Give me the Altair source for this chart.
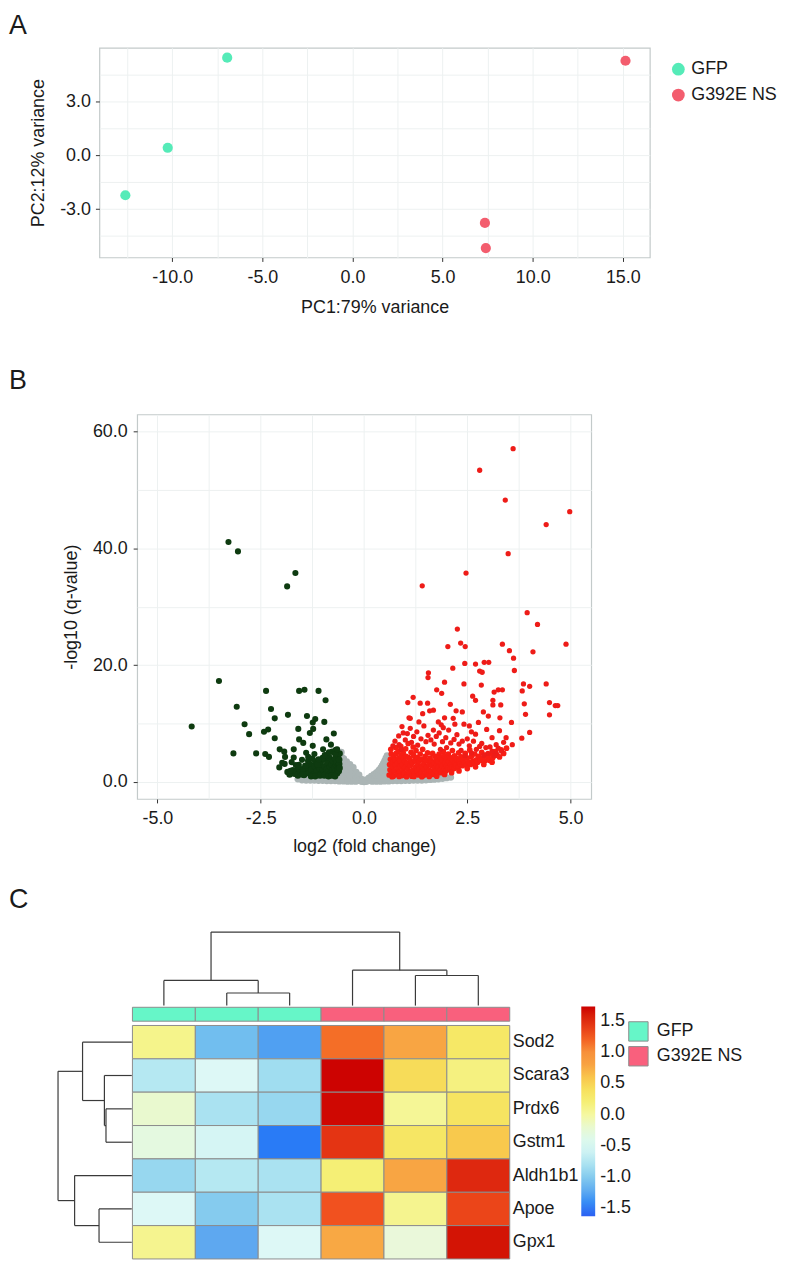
import altair as alt
import pandas as pd

FONT = "Liberation Sans"
TXT = "#1a1a1a"

# ---------------- Panel A : PCA ----------------
pca_group = ["GFP", "GFP", "GFP", "G392E NS", "G392E NS", "G392E NS"]
pca_pc1 = [-12.6, -10.25, -6.95, 15.15, 7.35, 7.4]
pca_pc2 = [-2.23, 0.41, 5.42, 5.25, -3.77, -5.17]
groups = ["GFP", "G392E NS"]
pca_colors = ["#55EBB8", "#F35D6E"]
A_x_ticks = [-12.5, -10, -7.5, -5, -2.5, 0, 2.5, 5, 7.5, 10, 12.5, 15]
A_y_ticks = [-4.5, -3, -1.5, 0, 1.5, 3, 4.5]

# ---------------- Panel B : volcano ----------------
green_x = [-3.28, -3.05, -1.66, -1.86, -3.51, -4.17, -2.37, -3.08, -2.25, -2.16, -2.89, -2.78, -2.42, -2.32,
           -2.16, -1.84, -3.16, -2.61, -2.04, -2.39, -2.30, -1.93, -1.91, -1.92, -1.70, -1.57, -1.44, -1.59,
           -1.57, -1.47, -1.38, -1.24, -1.31, -1.70, -1.40, -1.65, -1.10, -0.93, -1.18, -1.23, -0.96, -0.73,
           -1.24, -0.99, -0.80, -0.91, -1.75, -1.60, -1.50, -1.35, -1.20, -1.10, -0.95, -0.85, -0.70, -0.65,
           -2.05, -1.98, -1.78]
green_y = [41.1, 39.5, 35.8, 33.5, 17.3, 9.5, 15.6, 12.9, 12.5, 10.9, 9.9, 8.2, 8.6, 9.0,
           7.5, 11.5, 4.9, 4.9, 5.6, 4.8, 4.3, 5.2, 4.3, 3.1, 5.6, 15.6, 15.8, 9.1,
           7.3, 6.7, 11.3, 10.2, 8.4, 4.2, 5.0, 2.9, 15.6, 14.0, 10.8, 9.1, 10.3, 8.3,
           6.2, 5.6, 6.4, 7.3, 3.4, 2.6, 3.8, 4.3, 4.8, 3.9, 4.6, 5.1, 4.8, 5.6,
           2.5, 3.3, 1.9]
green_dense_x = [-1.45, -1.40, -1.38, -1.33, -1.30, -1.27, -1.22, -1.20, -1.17, -1.14, -1.10, -1.08, -1.05,
                 -1.02, -0.99, -0.97, -0.95, -0.92, -0.90, -0.88, -0.86, -0.84, -0.82, -0.80, -0.78, -0.76,
                 -0.75, -0.73, -0.72, -0.70, -0.69, -0.68, -0.66, -0.65, -0.64, -0.63, -0.62, -0.61, -0.60,
                 -0.60, -0.59, -0.59, -1.55, -1.60, -1.50, -1.62, -1.68, -1.72, -1.80, -1.85, -1.35, -1.25,
                 -1.12, -1.00, -0.90, -0.77, -0.68, -1.58, -1.48, -1.42, -1.28, -1.18, -1.06, -0.96, -0.86,
                 -0.78, -0.70]
green_dense_y = [1.2, 1.8, 2.5, 1.5, 3.0, 2.1, 1.3, 2.7, 3.5, 1.9, 1.2, 2.4, 3.1,
                 1.6, 2.0, 3.8, 2.7, 1.4, 2.2, 3.3, 1.8, 4.2, 2.6, 1.5, 3.0, 2.0,
                 3.6, 1.3, 2.4, 4.0, 1.8, 2.9, 3.4, 1.5, 2.2, 4.5, 2.7, 1.9, 3.1,
                 3.8, 2.4, 4.9, 1.6, 1.1, 2.2, 1.9, 1.4, 2.0, 1.3, 1.7, 3.6, 4.0,
                 3.0, 4.1, 4.6, 5.2, 5.5, 2.9, 1.3, 2.8, 1.0, 1.0, 1.1, 1.1, 1.0,
                 1.1, 1.0]

red_x = [3.61, 2.80, 3.42, 4.98, 4.41, 3.49, 2.47, 1.41, 3.95, 4.20, 2.26, 4.89, 2.03, 2.34, 2.45, 3.35,
         3.52, 4.09, 3.62, 2.44, 2.70, 2.91, 3.02, 2.80, 2.86, 2.15, 3.64, 1.56, 1.55, 1.95, 2.42, 2.84,
         3.86, 4.01, 4.41, 1.76, 1.88, 1.19, 1.06, 1.36, 1.54, 2.09, 2.63, 2.70, 3.15, 3.25, 3.35, 3.12,
         3.12, 3.31, 3.83, 3.88, 4.49, 4.63, 4.69, 4.49, 4.01, 3.82, 3.59, 3.44, 3.28, 3.91, 3.57, 3.29,
         2.89, 3.01, 2.77, 2.60, 2.42, 2.38, 2.23, 2.16, 2.20, 1.95, 1.87, 1.80, 1.68, 1.59, 1.42, 1.09,
         1.33, 0.92, 1.12, 1.68, 3.20, 3.20, 3.33, 3.00, 2.80, 1.12, 0.84,
         1.00, 1.05, 1.15, 1.20, 1.28, 1.30, 1.38, 1.45, 1.50, 1.55, 1.62, 1.70, 1.75, 1.82, 1.90, 1.98,
         2.05, 2.10, 2.18, 2.25, 2.30, 2.38, 2.50, 2.55, 2.65, 2.72, 2.85, 2.95, 3.05, 3.10, 2.00, 1.85,
         2.35, 2.60, 2.45, 2.90, 3.15, 3.25, 3.38, 1.92, 2.55, 2.97, 2.70, 3.10, 0.95, 0.85, 0.75, 0.70, 0.90]
red_y = [57.1, 53.4, 48.3, 46.3, 44.1, 39.1, 35.8, 33.6, 29.0, 27.0, 26.2, 23.6, 23.2, 23.8, 23.2, 23.6,
         22.5, 22.3, 21.2, 20.3, 20.2, 20.5, 20.5, 19.0, 18.8, 19.5, 19.1, 18.7, 17.9, 17.1, 16.8, 16.6,
         16.8, 16.4, 16.8, 15.8, 15.2, 14.5, 13.6, 13.5, 13.5, 13.3, 14.7, 14.0, 15.4, 15.8, 15.8, 14.0,
         13.2, 13.2, 15.6, 13.4, 13.6, 13.1, 13.1, 11.5, 8.5, 7.5, 6.4, 7.6, 8.8, 11.6, 10.2, 11.0,
         12.0, 11.3, 10.2, 8.6, 9.9, 12.0, 12.2, 10.9, 9.9, 11.0, 9.8, 10.3, 12.3, 12.2, 11.7, 11.0,
         10.3, 9.5, 9.2, 8.9, 6.4, 4.9, 5.3, 4.9, 6.1, 10.9, 7.9,
         7.2, 8.3, 6.8, 7.8, 8.6, 6.3, 7.4, 9.6, 6.9, 8.0, 7.2, 6.5, 7.8, 8.4, 6.9, 7.6,
         8.9, 6.7, 7.3, 8.1, 6.5, 7.0, 7.4, 6.2, 7.0, 5.6, 6.6, 5.9, 6.0, 5.3, 5.9, 5.6,
         5.4, 5.0, 4.5, 4.6, 4.5, 5.8, 6.8, 9.3, 9.6, 9.0, 8.2, 7.6, 8.4, 6.4, 7.0, 6.2, 5.6]
red_dense_x = [0.61, 0.63, 0.62, 0.64, 0.66, 0.65, 0.67, 0.69, 0.70, 0.72, 0.71, 0.74, 0.76, 0.75, 0.78, 0.77,
               0.80, 0.82, 0.81, 0.84, 0.83, 0.86, 0.88, 0.87, 0.90, 0.89, 0.92, 0.94, 0.93, 0.96, 0.95, 0.98,
               1.00, 0.99, 1.02, 1.01, 1.04, 1.06, 1.05, 1.08, 1.07, 1.10, 1.12, 1.11, 1.14, 1.16, 1.18, 1.17,
               1.20, 1.19, 1.22, 1.24, 1.23, 1.26, 1.28, 1.30, 1.29, 1.32, 1.34, 1.33, 1.36, 1.38, 1.40, 1.39,
               1.42, 1.44, 1.46, 1.45, 1.48, 1.50, 1.52, 1.51, 1.54, 1.56, 1.58, 1.57, 1.60, 1.62, 1.64, 1.63,
               1.66, 1.68, 1.70, 1.69, 1.72, 1.74, 1.76, 1.75, 1.78, 1.80, 1.79, 1.82, 1.84, 1.86, 1.85, 1.88,
               1.90, 1.89, 1.92, 1.94, 1.96, 1.95, 1.98, 2.00, 1.99, 2.03, 2.05, 2.04, 2.08, 2.10, 2.09, 2.13,
               2.15, 2.14, 2.18, 2.20, 2.19, 2.23, 2.25, 2.28, 2.30, 2.29, 2.33, 2.35, 2.38, 2.40, 2.43, 2.45,
               2.48, 2.50, 2.53, 2.56, 2.58, 2.60, 2.63, 2.66, 2.68, 2.72, 2.75, 2.78, 2.82, 2.85, 2.88, 2.92,
               2.95, 3.00, 3.04, 3.08, 3.12, 3.18, 3.22, 3.28, 3.32, 3.38, 3.45,
               0.68, 0.85, 1.03, 1.21, 1.40, 1.58, 1.76, 1.95, 2.12, 2.30, 2.50, 2.70, 2.90, 3.10]
red_dense_y = [1.2, 2.1, 3.0, 3.9, 4.8, 5.6, 1.6, 2.6, 3.4, 4.3, 1.0, 1.9, 2.9, 3.8, 4.9, 5.9,
               1.3, 2.3, 3.2, 4.1, 5.3, 1.7, 2.7, 3.6, 4.6, 6.1, 1.1, 2.0, 3.0, 4.0, 5.0, 1.5,
               2.5, 3.5, 4.4, 5.7, 1.2, 2.2, 3.2, 4.2, 6.6, 1.6, 2.8, 3.9, 5.1, 1.0, 2.0, 3.3,
               4.6, 6.0, 1.4, 2.5, 3.7, 5.4, 1.9, 3.0, 4.2, 1.2, 2.3, 3.5, 4.8, 1.6, 2.7, 3.9,
               5.6, 1.1, 2.1, 3.2, 4.4, 1.5, 2.6, 3.7, 5.0, 1.2, 2.0, 3.0, 4.1, 1.7, 2.8, 3.6,
               4.9, 1.3, 2.3, 3.3, 4.4, 1.8, 2.9, 3.9, 1.5, 2.5, 3.5, 4.8, 2.0, 3.1, 4.2, 1.6,
               2.7, 3.8, 5.2, 2.2, 3.3, 4.5, 1.9, 2.8, 4.0, 2.4, 3.5, 4.8, 2.1, 3.0, 4.2, 2.6,
               3.7, 5.4, 2.3, 3.3, 4.5, 2.8, 4.0, 2.5, 3.5, 5.0, 3.1, 4.3, 2.8, 3.8, 3.3, 4.9,
               2.9, 4.1, 3.4, 5.5, 3.0, 4.4, 3.6, 3.2, 4.8, 3.8, 3.4, 4.4, 3.7, 5.1, 4.0, 3.6,
               4.6, 4.1, 3.7, 4.8, 4.2, 5.2, 4.6, 4.3, 5.5, 4.9, 5.8,
               0.9, 0.95, 0.9, 0.95, 0.9, 0.95, 1.0, 1.3, 1.6, 1.9, 2.3, 2.6, 3.0, 3.4]

gray_x = [-1.45, -1.35, -1.25, -1.15, -1.05, -0.95, -0.85, -0.75, -0.65, -1.30, -1.10, -0.90, -0.70,
          -0.58, -0.58, -0.57, -0.56, -0.55, -0.52, -0.50, -0.50, -0.49, -0.45, -0.44, -0.43, -0.42,
          -0.38, -0.37, -0.35, -0.34, -0.30, -0.29, -0.27, -0.26, -0.22, -0.20, -0.19, -0.15, -0.14,
          -0.12, -0.08, -0.06, -0.03, 0.00, 0.03, 0.06, 0.10, 0.12, 0.16, 0.18, 0.22, 0.24, 0.28, 0.30,
          0.33, 0.36, 0.39, 0.41, 0.43, 0.46, 0.48, 0.50, 0.52, 0.54, 0.55, 0.57, 0.58, 0.58, 0.59,
          0.65, 0.75, 0.85, 0.95, 1.05, 1.15, 1.25, 1.35, 1.45, 1.55, 1.65, 1.75, 0.70, 0.90, 1.10,
          1.30, 1.50, -0.62, -0.60, 0.62, 0.60,
          -0.56, -0.53, -0.50, -0.47, -0.44, -0.41, -0.38, -0.35, -0.32, -0.29, -0.26, -0.23, -0.20,
          -0.17, -0.14, -0.10, -0.05, 0.05, 0.10, 0.14, 0.17, 0.20, 0.23, 0.26, 0.29, 0.32, 0.35, 0.38,
          0.41, 0.44, 0.47, 0.50, 0.53, 0.56,
          -1.60, -1.50, -1.40, -1.30, -1.20, -1.10, -1.00, -0.90, -0.80, -0.70, -0.60, -0.50, -0.40,
          -0.30, -0.20, 0.20, 0.30, 0.40, 0.50, 0.60, 0.70, 0.80, 0.90, 1.00, 1.10, 1.20, 1.30, 1.40,
          1.50, 1.60, 1.70, 1.80, 1.90, 2.00, 2.10, 1.85, 1.95,
          -0.50, -0.45, -0.40, -0.35, 0.35, 0.40, 0.45, 0.50, 0.52, -0.52]
gray_y = [0.6, 0.75, 0.5, 0.8, 0.6, 0.9, 0.7, 1.0, 0.8, 0.95, 1.05, 1.1, 1.2,
          1.5, 2.5, 3.5, 4.5, 5.1, 1.2, 2.2, 3.2, 4.0, 0.9, 1.9, 2.8, 3.5,
          0.7, 1.6, 2.4, 3.0, 0.5, 1.3, 2.0, 2.5, 0.4, 1.0, 1.7, 0.3, 0.8,
          1.2, 0.2, 0.5, 0.1, 0.05, 0.1, 0.4, 0.2, 0.7, 0.4, 1.0, 0.5, 1.3, 0.6, 1.6,
          1.0, 2.0, 0.8, 1.5, 2.5, 1.1, 2.0, 3.0, 1.4, 2.4, 3.5, 1.0, 1.9, 2.9, 3.8,
          0.7, 0.55, 0.8, 0.6, 0.75, 0.55, 0.8, 0.6, 0.75, 0.6, 0.7, 0.65, 0.95, 1.0, 0.95,
          1.0, 0.95, 1.3, 3.0, 1.2, 2.4,
          4.6, 4.1, 3.6, 3.2, 2.8, 2.4, 2.1, 1.8, 1.5, 1.2, 0.95, 0.75, 0.58,
          0.45, 0.32, 0.2, 0.1, 0.1, 0.2, 0.32, 0.45, 0.58, 0.75, 0.95, 1.2, 1.5, 1.8, 2.1,
          2.4, 2.8, 3.2, 3.6, 4.1, 4.5,
          0.5, 0.35, 0.3, 0.3, 0.3, 0.25, 0.25, 0.2, 0.2, 0.2, 0.15, 0.15, 0.1,
          0.1, 0.1, 0.1, 0.1, 0.1, 0.15, 0.15, 0.2, 0.2, 0.2, 0.25, 0.25, 0.3, 0.3, 0.3,
          0.35, 0.4, 0.45, 0.5, 0.6, 0.7, 0.8, 1.0, 1.1,
          1.0, 1.7, 0.6, 1.1, 1.1, 0.6, 1.7, 1.0, 2.6, 2.6]
B_x_ticks = [-5, -3.75, -2.5, -1.25, 0, 1.25, 2.5, 3.75, 5]
B_y_ticks = [0, 10, 20, 30, 40, 50, 60]

# ---------------- Panel C : heatmap ----------------
genes = ["Sod2", "Scara3", "Prdx6", "Gstm1", "Aldh1b1", "Apoe", "Gpx1"]
sample_group = ["GFP", "GFP", "GFP", "G392E NS", "G392E NS", "G392E NS"]
zscores = [
    [0.10, -1.10, -1.30, 1.15, 0.78, 0.30],
    [-0.75, -0.50, -0.85, 1.72, 0.45, 0.15],
    [-0.20, -0.80, -0.90, 1.70, 0.05, 0.35],
    [-0.30, -0.55, -1.50, 1.45, 0.32, 0.58],
    [-0.90, -0.75, -0.80, 0.20, 0.78, 1.52],
    [-0.50, -1.00, -0.80, 1.27, 0.08, 1.35],
    [0.08, -1.25, -0.50, 0.75, -0.25, 1.65],
]
heat_stops = [-1.63, -1.25, -1.0, -0.75, -0.5, -0.25, 0.0, 0.25, 0.5, 0.75, 1.0, 1.25, 1.5, 1.73]
heat_colors = ["#2F5FF2", "#5EA8F0", "#85CBEE", "#B5E8F2", "#DDF8F6", "#EAF8DA", "#F5F8A0",
               "#F6EC6A", "#F7D855", "#F8A844", "#F7903A", "#F25420", "#E02A10", "#CC0000"]
annot_colors = ["#66F6C8", "#F9607D"]
cbar_ticks = [-1.5, -1.0, -0.5, 0.0, 0.5, 1.0, 1.5]
# dendrogram merges: (left, right, height); letters name earlier merges in order a, b, c...
col_merges = [(1, 2, 12.7), (0, "a", 25.3), (4, 5, 30.3), (3, "c", 35.7), ("b", "d", 74.0)]
row_merges = [(2, 3, 26.0), (1, "a", 27.6), (0, "b", 49.6), (5, 6, 33.0), (4, "d", 57.6), ("c", "e", 74.3)]


def lab_expr(major):
    return f"({major}) ? replace(format(datum.value, '.1f'), '\u2212', '-') : ''"


def axis(title, values, major, tpad, lpad=5):
    return alt.Axis(
        title=title, values=values, labelExpr=lab_expr(major),
        tickOpacity={"condition": {"test": f"!({major})", "value": 0}, "value": 1},
        domain=False, grid=True, gridColor="#EDF1F1", gridWidth=1,
        tickColor="#333333", tickSize=4, labelPadding=lpad, titlePadding=tpad,
        labelFont=FONT, titleFont=FONT, labelFontSize=18, titleFontSize=18,
        labelColor=TXT, titleColor=TXT, titleFontWeight="normal",
    )


def panel_title(letter, offset):
    return alt.TitleParams(letter, anchor="start", frame="group", offset=offset,
                           fontSize=27, fontWeight="normal", font=FONT, color=TXT)


def spacer(w, h):
    return alt.Chart(pd.DataFrame({"v": [0]})).mark_rect(opacity=0).encode(
        x=alt.value(1), x2=alt.value(2), y=alt.value(1), y2=alt.value(2)
    ).properties(width=w, height=h, view=alt.ViewBackground(stroke="transparent"))


frame = alt.ViewBackground(stroke="#C3CACA", strokeWidth=1.2)

# ---- A
dfA = pd.DataFrame({"PC1": pca_pc1, "PC2": pca_pc2, "group": pca_group})
chartA = alt.Chart(dfA).mark_circle(size=105, opacity=1).encode(
    x=alt.X("PC1:Q", scale=alt.Scale(domain=[-14.04, 16.5], nice=False, zero=False),
            axis=axis("PC1:79% variance", A_x_ticks, "datum.value % 5 === 0", 12, 7)),
    y=alt.Y("PC2:Q", scale=alt.Scale(domain=[-5.69, 5.97], nice=False, zero=False),
            axis=axis("PC2:12% variance", A_y_ticks, "datum.value % 3 === 0", 12)),
    color=alt.Color("group:N", scale=alt.Scale(domain=groups, range=pca_colors),
                    legend=alt.Legend(title=None, orient="none", legendX=664.7, legendY=12.5,
                                      symbolType="circle", symbolSize=165, symbolStrokeWidth=0,
                                      labelFont=FONT, labelFontSize=18, labelColor=TXT,
                                      labelOffset=4, rowPadding=8, padding=0)),
).properties(width=554, height=211, view=frame)
rowA = alt.hconcat(spacer(19, 295.7), chartA, spacing=0).properties(title=panel_title("A", 7))

# ---- B
dfB = pd.concat([
    pd.DataFrame({"lfc": gray_x, "q": gray_y, "cls": "ns"}),
    pd.DataFrame({"lfc": green_dense_x, "q": green_dense_y, "cls": "down2"}),
    pd.DataFrame({"lfc": green_x, "q": green_y, "cls": "down"}),
    pd.DataFrame({"lfc": red_dense_x, "q": red_dense_y, "cls": "up2"}),
    pd.DataFrame({"lfc": red_x, "q": red_y, "cls": "up"}),
], ignore_index=True)
cls_dom = ["ns", "down2", "down", "up2", "up"]
chartB = alt.Chart(dfB).mark_circle(opacity=1).encode(
    x=alt.X("lfc:Q", scale=alt.Scale(domain=[-5.49, 5.5], nice=False, zero=False),
            axis=axis("log2 (fold change)", B_x_ticks, "(datum.value * 2) % 5 === 0", 10, 7)),
    y=alt.Y("q:Q", scale=alt.Scale(domain=[-2.9, 62.96], nice=False, zero=False),
            axis=axis("-log10 (q-value)", B_y_ticks, "datum.value % 20 === 0", 12, 6)),
    color=alt.Color("cls:N", scale=alt.Scale(domain=cls_dom,
                                             range=["#ABB5B5", "#0E3B10", "#0E3B10", "#F81E14", "#EE1C18"]),
                    legend=None),
    size=alt.Size("cls:N", scale=alt.Scale(domain=cls_dom, range=[48, 28, 11, 32, 11]), legend=None),
    order=alt.Order("idx:Q"),
).transform_window(idx="row_number()").properties(width=457, height=387, view=frame)
rowB = alt.hconcat(spacer(52.3, 449), chartB, spacing=0).properties(title=panel_title("B", 18.7))

# ---- C
CW, RH = 63.33, 33.57          # pixel size of one heatmap column / row
xs = alt.Scale(domain=[-1.963, 6.0], nice=False, zero=False)
ys = alt.Scale(domain=[-2.979, 7.0], nice=False, zero=False, reverse=True)

heat_rows = []
for r, g in enumerate(genes):
    for c in range(6):
        heat_rows.append({"x0": c, "x1": c + 1, "y0": r, "y1": r + 1, "value": zscores[r][c], "gene": g})
dfH = pd.DataFrame(heat_rows)
ann_top, ann_bot = -18.3 / RH, -4.3 / RH
dfAn = pd.DataFrame({"x0": list(range(6)), "x1": [c + 1 for c in range(6)],
                     "y0": [ann_top] * 6, "y1": [ann_bot] * 6, "group": sample_group})


def dendro_segments(merges, leaf_pos, to_coord, horizontal):
    pos = {i: (p, 0.0) for i, p in enumerate(leaf_pos)}
    names = "abcdefghij"
    segs = []
    for k, (left, right, h) in enumerate(merges):
        (pl, hl), (pr, hr) = pos[left], pos[right]
        pos[names[k]] = ((pl + pr) / 2, h)
        segs.append((pl, to_coord(hl), pl, to_coord(h)))
        segs.append((pr, to_coord(hr), pr, to_coord(h)))
        segs.append((pl, to_coord(h), pr, to_coord(h)))
    rows = []
    for a, b, c2, d in segs:
        if horizontal:
            rows.append({"x": b, "y": a, "x2": d, "y2": c2})
        else:
            rows.append({"x": a, "y": b, "x2": c2, "y2": d})
    return rows


top_leaf = -20.0 / RH
segs_top = dendro_segments(col_merges, [c + 0.5 for c in range(6)], lambda h: top_leaf - h / RH, False)
segs_left = dendro_segments(row_merges, [r + 0.5 for r in range(7)], lambda h: -0.01 - h / CW, True)
dfD = pd.DataFrame(segs_top + segs_left)
dfL = pd.DataFrame({"gene": genes, "x": [6.0] * 7, "y": [r + 0.5 for r in range(7)]})

heat = alt.Chart(dfH).mark_rect(stroke="#8C8C8C", strokeWidth=1).encode(
    x=alt.X("x0:Q", scale=xs, axis=None), x2="x1:Q",
    y=alt.Y("y0:Q", scale=ys, axis=None), y2="y1:Q",
    color=alt.Color("value:Q", scale=alt.Scale(domain=heat_stops, range=heat_colors),
                    legend=alt.Legend(title=None, orient="none", legendX=576, legendY=81,
                                      direction="vertical", gradientLength=211, gradientThickness=14,
                                      gradientStrokeWidth=0, values=cbar_ticks,
                                      labelExpr="replace(format(datum.value, '.1f'), '\u2212', '-')",
                                      labelFont=FONT, labelFontSize=18, labelColor=TXT, labelOffset=5,
                                      labelOverlap=False, padding=0)),
)
annot = alt.Chart(dfAn).mark_rect(stroke="#8C8C8C", strokeWidth=1).encode(
    x=alt.X("x0:Q", scale=xs, axis=None), x2="x1:Q",
    y=alt.Y("y0:Q", scale=ys, axis=None), y2="y1:Q",
    fill=alt.Fill("group:N", scale=alt.Scale(domain=groups, range=annot_colors),
                  legend=alt.Legend(title=None, orient="none", legendX=623, legendY=95.5,
                                    symbolType="square", symbolSize=380, symbolStrokeColor="#8C8C8C",
                                    symbolStrokeWidth=1, labelFont=FONT, labelFontSize=18, labelColor=TXT,
                                    labelOffset=8, rowPadding=0, padding=0)),
)
dendro = alt.Chart(dfD).mark_rule(color="#3A3A3A", strokeWidth=1.2).encode(
    x=alt.X("x:Q", scale=xs, axis=None), x2="x2:Q",
    y=alt.Y("y:Q", scale=ys, axis=None), y2="y2:Q",
)
labels = alt.Chart(dfL).mark_text(align="left", baseline="middle", dx=3, fontSize=18, font=FONT,
                                  color=TXT).encode(
    x=alt.X("x:Q", scale=xs, axis=None), y=alt.Y("y:Q", scale=ys, axis=None), text="gene:N")

chartC = alt.layer(dendro, annot, heat, labels).properties(
    width=504, height=335, title=panel_title("C", 12),
    view=alt.ViewBackground(stroke="transparent"))

chart = alt.vconcat(rowA, rowB, chartC, spacing=24).resolve_scale(
    color="independent", fill="independent", size="independent"
).properties(padding={"left": 0, "top": 0, "right": 0, "bottom": 0}).configure(font=FONT)

chart.save("out.html", embed_options={"renderer": "svg", "actions": False})
